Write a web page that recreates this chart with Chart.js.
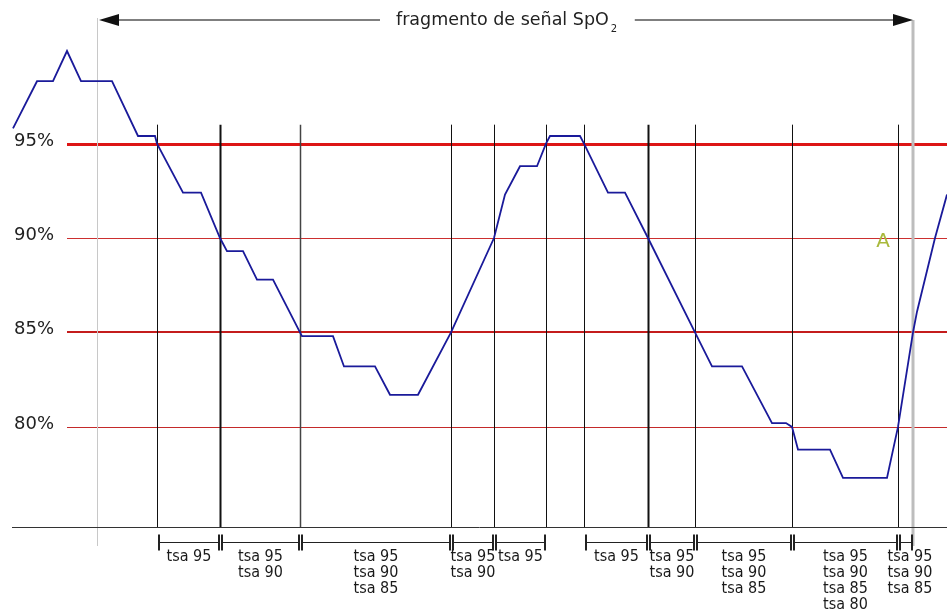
<!DOCTYPE html>
<html>
<head>
<meta charset="utf-8">
<script src="https://cdn.jsdelivr.net/npm/chart.js@4.4.1/dist/chart.umd.min.js"></script>
<style>
  html, body { margin: 0; padding: 0; background: #fff; }
  #wrap { width: 947px; height: 614px; }
</style>
</head>
<body>
<div id="wrap"><canvas id="c" width="947" height="614"></canvas></div>
<script>
const tiempo = [1.3, 3.7, 5.3, 6.7, 8.1, 11.2, 13.8, 15.5, 15.7, 18.3, 20.1, 22.0, 22.7, 24.3, 25.7, 27.3,
  30.0, 30.2, 33.3, 34.4, 37.5, 39.0, 41.8, 45.1, 49.4, 50.5, 52.0, 53.7, 54.6, 55.0, 58.0, 58.4,
  60.8, 62.5, 64.8, 69.5, 71.2, 74.2, 77.2, 78.6, 79.2, 79.8, 83.0, 84.3, 88.7, 89.8, 91.3, 91.7, 93.5, 94.7];
const spo2 = [95.8, 98.3, 98.3, 99.9, 98.3, 98.3, 95.4, 95.4, 95.0, 92.4, 92.4, 90.0, 89.3, 89.3, 87.8, 87.8,
  85.0, 84.8, 84.8, 83.2, 83.2, 81.7, 81.7, 85.0, 90.0, 92.3, 93.8, 93.8, 95.0, 95.4, 95.4, 95.0,
  92.4, 92.4, 90.0, 85.0, 83.2, 83.2, 80.2, 80.2, 80.0, 78.8, 78.8, 77.3, 77.3, 80.0, 85.0, 86.1, 90.0, 92.3];

// umbrales de saturación
const umbrales = [95, 90, 85, 80];
const etiquetasUmbral = ['95%', '90%', '85%', '80%'];

// instantes en que la señal cruza un umbral
const cruces = [15.7, 22.0, 30.0, 45.1, 49.4, 54.6, 58.4, 64.8, 69.5, 79.2, 89.8];
const fragmento = [9.7, 91.3];

// tramos bajo umbral y su etiqueta
const tramoInicio = [15.7, 22.0, 30.0, 45.1, 49.4, 58.4, 64.8, 69.5, 79.2, 89.8];
const tramoFin = [22.0, 30.0, 45.1, 49.4, 54.6, 64.8, 69.5, 79.2, 89.8, 91.3];
const tramoTextos = [
  ['tsa 95'],
  ['tsa 95', 'tsa 90'],
  ['tsa 95', 'tsa 90', 'tsa 85'],
  ['tsa 95', 'tsa 90'],
  ['tsa 95'],
  ['tsa 95'],
  ['tsa 95', 'tsa 90'],
  ['tsa 95', 'tsa 90', 'tsa 85'],
  ['tsa 95', 'tsa 90', 'tsa 85', 'tsa 80'],
  ['tsa 95', 'tsa 90', 'tsa 85']
];

const estiloUmbral = { 95: [3, '#dd1515'], 90: [1, '#cc2f2f'], 85: [2, '#c41c1c'], 80: [1, '#c42a2a'] };
const grosorCruce = [1, 2, 1.5, 1, 1, 1, 1, 2, 1, 1, 1];

function flecha(ctx, x, y, dir) {
  ctx.beginPath();
  ctx.moveTo(x, y);
  ctx.lineTo(x + dir * 20, y - 6);
  ctx.lineTo(x + dir * 20, y + 6);
  ctx.closePath();
  ctx.fill();
}

const anotaciones = {
  id: 'anotaciones',
  beforeDatasetsDraw(chart) {
    const { ctx, chartArea: a, scales: { x, y } } = chart;
    ctx.save();

    // líneas de umbral con su etiqueta
    ctx.font = '18px "DejaVu Sans"';
    ctx.textBaseline = 'middle';
    umbrales.forEach((u, i) => {
      const [w, col] = estiloUmbral[u];
      const py = Math.round(y.getPixelForValue(u)) + (w % 2 ? 0.5 : 0);
      ctx.strokeStyle = col;
      ctx.lineWidth = w;
      ctx.beginPath();
      ctx.moveTo(a.left + 67, py);
      ctx.lineTo(a.right, py);
      ctx.stroke();
      ctx.fillStyle = '#222';
      ctx.fillText(etiquetasUmbral[i], a.left + 14, py - 3);
    });

    // marcas verticales en los cruces
    const arriba = y.getPixelForValue(96);
    cruces.forEach((t, i) => {
      const px = Math.round(x.getPixelForValue(t)) + 0.5;
      ctx.strokeStyle = i === 2 ? '#444' : '#111';
      ctx.lineWidth = grosorCruce[i];
      ctx.beginPath();
      ctx.moveTo(px, arriba);
      ctx.lineTo(px, a.bottom);
      ctx.stroke();
    });

    // límites del fragmento
    ctx.strokeStyle = '#c8c8c8';
    ctx.lineWidth = 1;
    let px = Math.round(x.getPixelForValue(fragmento[0])) + 0.5;
    ctx.beginPath(); ctx.moveTo(px, a.top + 18); ctx.lineTo(px, a.bottom + 19); ctx.stroke();
    ctx.strokeStyle = '#bdbdbd';
    ctx.lineWidth = 3;
    px = x.getPixelForValue(fragmento[1]);
    ctx.beginPath(); ctx.moveTo(px, a.top + 20); ctx.lineTo(px, a.bottom + 19); ctx.stroke();

    // eje de tiempo
    ctx.strokeStyle = '#333';
    ctx.lineWidth = 1;
    ctx.beginPath();
    ctx.moveTo(a.left + 12, a.bottom + 0.5);
    ctx.lineTo(a.right, a.bottom + 0.5);
    ctx.stroke();

    // flecha del fragmento y título
    const fy = a.top + 20;
    const x0 = x.getPixelForValue(fragmento[0]);
    const x1 = x.getPixelForValue(fragmento[1]);
    ctx.font = '17.5px "DejaVu Sans"';
    const titulo = 'fragmento de señal SpO';
    const wt = ctx.measureText(titulo).width;
    const tx = 396;
    ctx.strokeStyle = '#555';
    ctx.lineWidth = 1.5;
    ctx.beginPath();
    ctx.moveTo(x0 + 10, fy); ctx.lineTo(tx - 16, fy);
    ctx.moveTo(tx + wt + 26, fy); ctx.lineTo(x1 - 10, fy);
    ctx.stroke();
    ctx.fillStyle = '#111';
    flecha(ctx, x0 + 2, fy, 1);
    flecha(ctx, x1, fy, -1);
    ctx.fillStyle = '#222';
    ctx.textAlign = 'left';
    ctx.fillText(titulo, tx, fy);
    ctx.font = '10px "DejaVu Sans"';
    ctx.fillText('2', tx + wt + 2, fy + 9);

    ctx.restore();
  },
  afterDatasetsDraw(chart) {
    const { ctx, chartArea: a, scales: { x, y } } = chart;
    ctx.save();

    // punto A
    ctx.fillStyle = '#a9b93c';
    ctx.font = '20px "DejaVu Sans"';
    ctx.textAlign = 'center';
    ctx.textBaseline = 'middle';
    ctx.fillText('A', x.getPixelForValue(88.3), y.getPixelForValue(89.8));

    // tramos tsa bajo el eje
    const by = a.bottom + 15.5;
    ctx.strokeStyle = '#222';
    ctx.fillStyle = '#1a1a1a';
    ctx.font = '16px "DejaVu Sans Condensed"';
    tramoInicio.forEach((t0, i) => {
      const p0 = Math.round(x.getPixelForValue(t0)) + 2;
      const p1 = Math.round(x.getPixelForValue(tramoFin[i])) - 1;
      ctx.lineWidth = 1;
      ctx.beginPath();
      ctx.moveTo(p0, by); ctx.lineTo(p1, by);
      ctx.stroke();
      ctx.lineWidth = 2;
      ctx.beginPath();
      ctx.moveTo(p0, by - 8); ctx.lineTo(p0, by + 8);
      ctx.moveTo(p1, by - 8); ctx.lineTo(p1, by + 8);
      ctx.stroke();
      const cx = (p0 + p1) / 2;
      tramoTextos[i].forEach((s, k) => {
        ctx.fillText(s, cx + (i === 9 ? 4 : 0), by + 14 + k * 16);
      });
    });

    ctx.restore();
  }
};

new Chart(document.getElementById('c'), {
  type: 'line',
  data: {
    datasets: [{
      data: tiempo.map((t, i) => ({ x: t, y: spo2[i] })),
      borderColor: '#1a1a9a',
      borderWidth: 1.8,
      pointRadius: 0,
      tension: 0,
      fill: false
    }]
  },
  options: {
    responsive: false,
    animation: false,
    layout: { padding: { left: 0, right: 0, top: 0, bottom: 87 } },
    scales: {
      x: { type: 'linear', min: 0, max: 94.7, display: false },
      y: { min: 74.7, max: 102.6, display: false }
    },
    plugins: { legend: { display: false }, tooltip: { enabled: false } }
  },
  plugins: [anotaciones]
});
</script>
</body>
</html>
